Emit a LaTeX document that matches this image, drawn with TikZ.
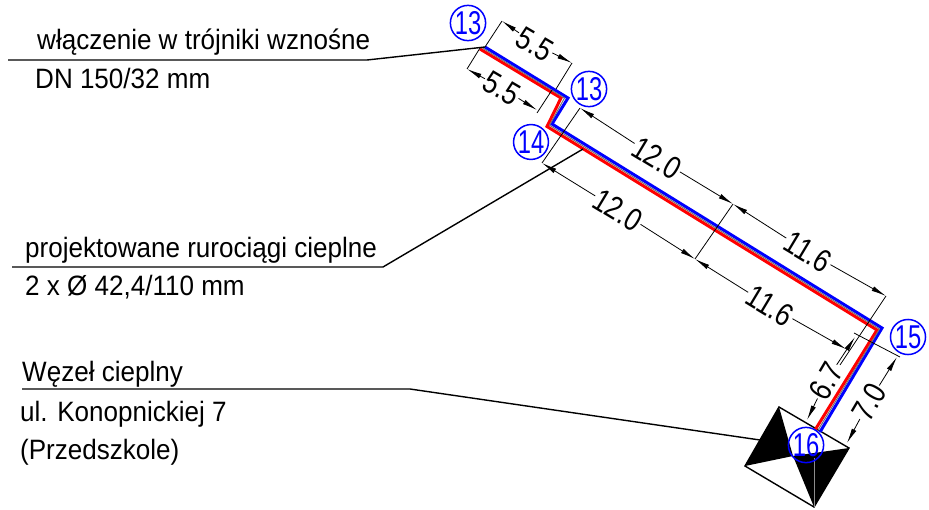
\documentclass[tikz,border=0pt]{standalone}
\usepackage{fontspec}
\setmainfont{Liberation Sans}
\newfontfamily\lblfont[FakeStretch=0.93]{Liberation Sans}
\newfontfamily\dimfont[FakeStretch=0.82]{Liberation Sans}
\newfontfamily\bubfont[FakeStretch=0.72]{Liberation Sans}
\usetikzlibrary{arrows.meta}
\tikzset{
  x=1pt,y=-1pt,
  leader/.style={line width=1.4pt,black},
  extline/.style={line width=0.8pt,black},
  dimline/.style={line width=0.8pt,black,{Latex[length=15pt,width=5pt]}-},
  dimtext/.style={font=\fontsize{32}{32}\dimfont,inner sep=1pt,text=black},
  lbl/.style={font=\fontsize{28}{28}\lblfont,anchor=base west,inner sep=0pt},
  bub/.style={circle,draw=blue,text=blue,line width=1.5pt,minimum size=30pt,inner sep=0pt,font=\fontsize{33}{33}\bubfont},
  pipeblue/.style={line width=3pt,blue,line join=miter},
  pipered/.style={line width=3pt,red,line join=miter},
  pipecore/.style={line width=1pt,black!55,line join=miter},
}
\begin{document}
\begin{tikzpicture}
\useasboundingbox (0,0) rectangle (929,509);
\fill[white] (0,0) rectangle (929,509);
% pipe points
\coordinate (b1) at (485,47); \coordinate (b2) at (568,98); \coordinate (b3) at (552,124);
\coordinate (b4) at (882,328); \coordinate (b5) at (820,432);
\coordinate (r1) at (480,49); \coordinate (r2) at (561,98); \coordinate (r3) at (547,126.5);
\coordinate (r4) at (877,330); \coordinate (r5) at (815,430);
\coordinate (g1) at (482.5,48); \coordinate (g2) at (564.5,98); \coordinate (g3) at (549.5,125.2);
\coordinate (g4) at (879.5,329); \coordinate (g5) at (817.5,431);
% station
\coordinate (sa) at (779,407); \coordinate (sb) at (849,448); \coordinate (sc) at (814,507); \coordinate (sd) at (745,466);
\coordinate (sm) at (793,456);
\fill[black] (sa) -- (sd) -- (sm) -- cycle;
\fill[black] (sb) -- (sc) -- (sm) -- cycle;
\draw[line width=1.4pt,line join=miter] (sa) -- (sb) -- (sc) -- (sd) -- cycle;
\draw[line width=0.6pt,black!45] (814,458) -- (sc);
% pipes
\draw[pipered] (r1) -- (r2) -- (r3) -- (r4) -- (r5);
\draw[pipeblue] (b1) -- (b2) -- (b3) -- (b4) -- (b5);
\draw[pipecore] (g1) -- (g2) -- (g3) -- (g4) -- (g5);
% leaders and labels
\coordinate (l1a) at (8,60); \coordinate (l1b) at (367,60); \coordinate (l1c) at (485,47);
\coordinate (l2a) at (12,267); \coordinate (l2b) at (383,267); \coordinate (l2c) at (583,149);
\coordinate (l3a) at (22,389); \coordinate (l3b) at (410,389); \coordinate (l3c) at (760,440);
\draw[leader] (l1a) -- (l1b) -- (l1c);
\draw[leader] (l2a) -- (l2b) -- (l2c);
\draw[leader] (l3a) -- (l3b) -- (l3c);
\node[lbl] (t1) at (37,49) {włączenie w trójniki wznośne};
\node[lbl] (t2) at (35,88) {DN 150/32 mm};
\node[lbl] (t3) at (25,257) {projektowane rurociągi cieplne};
\node[lbl] (t4) at (25,295) {2 x Ø 42,4/110 mm};
\node[lbl] (t5) at (22,381) {Węzeł cieplny};
\node[lbl] (t6) at (20,421) {ul. Konopnickiej 7};
\node[lbl] (t7) at (20,459) {(Przedszkole)};
% extension lines
\coordinate (e1a) at (502,21); \coordinate (e1b) at (485,47);
\coordinate (e2a) at (572,63); \coordinate (e2b) at (556,89);
\coordinate (e3a) at (467,69); \coordinate (e3b) at (480,48);
\coordinate (e4a) at (537,113); \coordinate (e4b) at (552,90);
\coordinate (e5a) at (580,108); \coordinate (e5b) at (542,163);
\coordinate (e6a) at (733,204); \coordinate (e6b) at (695,259);
\coordinate (e7a) at (886,296); \coordinate (e7b) at (840,365);
\coordinate (e8a) at (854,333); \coordinate (e8b) at (900,357);
\draw[extline] (e1a) -- (e1b);
\draw[extline] (e2a) -- (e2b);
\draw[extline] (e3a) -- (e3b);
\draw[extline] (e4a) -- (e4b);
\draw[extline] (e5a) -- (e5b);
\draw[extline] (e6a) -- (e6b);
\draw[extline] (e7a) -- (e7b);
\draw[extline] (e8a) -- (e8b);
% dimensions
\node[dimtext,rotate=-30.5] (d1) at (535,44) {5.5};
\draw[dimline] (e1a) -- (d1); \draw[dimline] (e2a) -- (d1);
\node[dimtext,rotate=-30.5] (d2) at (502,88) {5.5};
\draw[dimline] (e3a) -- (d2); \coordinate (e4c) at (537,110); \draw[dimline] (e4c) -- (d2);
\node[dimtext,rotate=-31] (d3) at (657,158) {12.0};
\draw[dimline] (e5a) -- (d3); \draw[dimline] (e6a) -- (d3);
\node[dimtext,rotate=-31] (d4) at (618,210) {12.0};
\draw[dimline] (e5b) -- (d4); \draw[dimline] (e6b) -- (d4);
\node[dimtext,rotate=-31] (d5) at (808,252) {11.6};
\draw[dimline] (e6a) -- (d5); \draw[dimline] (e7a) -- (d5);
\node[dimtext,rotate=-31] (d6) at (770,306) {11.6};
\coordinate (e7c) at (846,349);
\draw[dimline] (e6b) -- (d6); \draw[dimline] (e7c) -- (d6);
\coordinate (d7a) at (855,337); \coordinate (d7b) at (807,420);
\node[dimtext,rotate=59.5] (d7) at (826,381) {6.7};
\draw[dimline] (d7a) -- (d7); \draw[dimline] (d7b) -- (d7);
\coordinate (d8a) at (897,357); \coordinate (d8b) at (847,443);
\node[dimtext,rotate=59.5] (d8) at (869,402) {7.0};
\draw[dimline] (d8a) -- (d8); \draw[dimline] (d8b) -- (d8);
% station numbers
\node[bub] (n1) at (468,23) {13};
\node[bub] (n2) at (589,89) {13};
\node[bub] (n3) at (531,142) {14};
\node[bub] (n4) at (908,337) {15};
\node[bub] (n5) at (806,445) {16};
\end{tikzpicture}
\end{document}
